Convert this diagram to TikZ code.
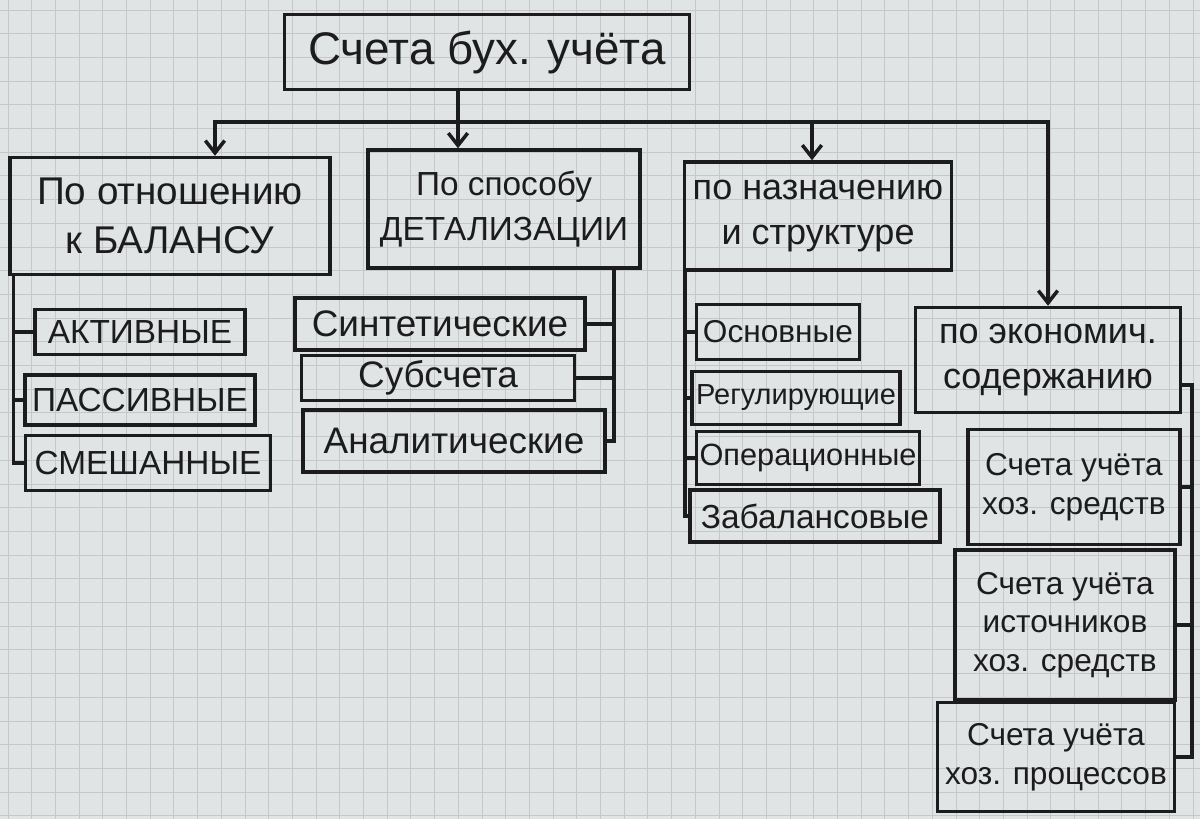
\documentclass[tikz,border=0pt]{standalone}
\usepackage{fontspec}
\setmainfont{Liberation Sans}
\usetikzlibrary{positioning,arrows.meta,calc}
\definecolor{paper}{HTML}{E1E4E4}
\definecolor{gridgray}{HTML}{C4C8CA}
\definecolor{ink}{HTML}{1C1C1C}

\begin{document}
\begin{tikzpicture}[
    x=0.02cm, y=-0.02cm,
    box/.style={
        draw=ink, line width=2pt, inner sep=0pt,
        align=center, text=ink, font=\fontsize{19}{23}\selectfont
    },
    arr/.style={-{Straight Barb[length=7pt,width=11pt]}, draw=ink, line width=2pt},
    line/.style={draw=ink, line width=2pt}
]
    % squared paper
    \fill[paper] (0,0) rectangle (1200,819);
    \useasboundingbox (0,0) rectangle (1200,819);
    \foreach \i in {0,...,50}
        \draw[gridgray, line width=0.5pt] ({8+23.7*\i},0) -- ({8+23.7*\i},819);
    \foreach \j in {0,...,34}
        \draw[gridgray, line width=0.5pt] (0,{10+23.7*\j}) -- (1200,{10+23.7*\j});

    \node[box, minimum width=8.1cm, minimum height=1.5cm, font=\fontsize{26}{30}\selectfont] (root) at (487,52)
        {Счета бух. учёта};

    \node[box, minimum width=6.4cm, minimum height=2.34cm, font=\fontsize{22}{28}\selectfont] (bal) at (170,216)
        {По отношению\\к БАЛАНСУ};
    \node[box, minimum width=5.44cm, minimum height=2.36cm, font=\fontsize{19}{26}\selectfont] (det) at (504,209)
        {По способу\\ДЕТАЛИЗАЦИИ};
    \node[box, minimum width=5.34cm, minimum height=2.16cm, font=\fontsize{20.5}{26}\selectfont] (nazn) at (818,216)
        {по назначению\\и структуре};
    \node[box, minimum width=5.3cm, minimum height=2.1cm, font=\fontsize{20.5}{26}\selectfont] (econ) at (1048,360)
        {по экономич.\\содержанию};

    % по отношению к балансу
    \node[box, minimum width=4.2cm, minimum height=0.9cm] (akt) at (140,332) {АКТИВНЫЕ};
    \node[box, minimum width=4.6cm, minimum height=1.0cm] (pass) at (140,400) {ПАССИВНЫЕ};
    \node[box, minimum width=4.9cm, minimum height=1.1cm] (smesh) at (148,463) {СМЕШАННЫЕ};

    % по способу детализации
    \node[box, minimum width=5.8cm, minimum height=1.04cm, font=\fontsize{21}{25}\selectfont] (synth) at (440,324) {Синтетические};
    \node[box, minimum width=5.46cm, minimum height=0.9cm, font=\fontsize{21}{25}\selectfont] (subs) at (438,378) {Субсчета};
    \node[box, minimum width=6.04cm, minimum height=1.24cm, font=\fontsize{21}{25}\selectfont] (anal) at (454,441) {Аналитические};

    % по назначению и структуре
    \node[box, minimum width=3.26cm, minimum height=1.1cm, font=\fontsize{18}{22}\selectfont] (osn) at (778,332) {Основные};
    \node[box, minimum width=4.16cm, minimum height=1.06cm, font=\fontsize{16.5}{20}\selectfont] (reg) at (796,398) {Регулирующие};
    \node[box, minimum width=4.46cm, minimum height=1.06cm, font=\fontsize{17.5}{21}\selectfont] (oper) at (808,458) {Операционные};
    \node[box, minimum width=5.0cm, minimum height=1.04cm] (zabal) at (815,516) {Забалансовые};

    % по экономическому содержанию
    \node[box, minimum width=4.24cm, minimum height=2.3cm, font=\fontsize{18}{22}\selectfont] (sredstv) at (1074,487)
        {Счета учёта\\хоз. средств};
    \node[box, minimum width=4.4cm, minimum height=3.0cm, font=\fontsize{18}{22}\selectfont] (istoch) at (1065,625)
        {Счета учёта\\источников\\хоз. средств};
    \node[box, minimum width=4.74cm, minimum height=2.18cm, font=\fontsize{18}{22}\selectfont] (proc) at (1056,757)
        {Счета учёта\\хоз. процессов};

    \coordinate (hub) at (458,122);
    \draw[line] (root.south -| hub) -- (hub);
    \draw[arr] (hub) -| ([xshift=0.9cm]bal.north);
    \draw[arr] (hub) -- (hub |- det.north);
    \draw[arr] (hub) -| ([xshift=-0.12cm]nazn.north);
    \draw[arr] (hub) -| (econ.north);

    \coordinate (t1) at ([xshift=0.1cm]bal.south west);
    \draw[line] (t1) |- (smesh.west);
    \foreach \n in {akt,pass}
        \draw[line] (\n.west) -- (\n.west -| t1);

    \coordinate (t2) at ([xshift=-0.56cm]det.south east);
    \draw[line] (t2) |- (anal.east);
    \foreach \n in {synth,subs}
        \draw[line] (\n.east) -- (\n.east -| t2);

    \coordinate (t3) at ([xshift=0.04cm]nazn.south west);
    \draw[line] (t3) |- (zabal.west);
    \foreach \n in {osn,reg,oper}
        \draw[line] (\n.west) -- (\n.west -| t3);

    \coordinate (t4) at ([yshift=-0.5cm]econ.east);
    \coordinate (t4b) at ($(t4)+(10,0)$);
    \draw[line] (t4) -- (t4b) |- (proc.east);
    \foreach \n in {sredstv,istoch}
        \draw[line] (\n.east) -- (\n.east -| t4b);
\end{tikzpicture}
\end{document}
